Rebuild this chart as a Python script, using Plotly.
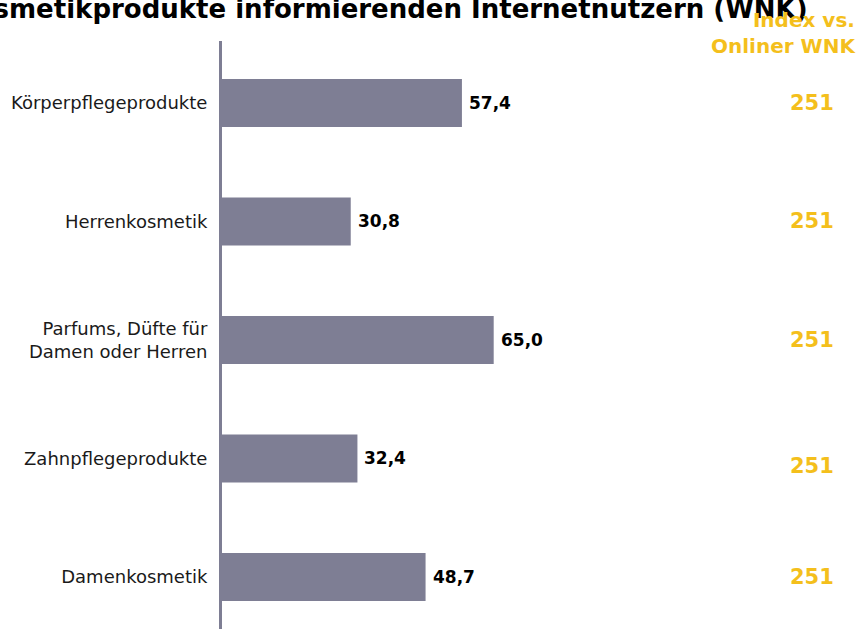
import plotly.graph_objects as go

# Share of internet users informing themselves about each product group (%)
categories = [
    "Körperpflegeprodukte",
    "Herrenkosmetik",
    "Parfums, Düfte für<br>Damen oder Herren",
    "Zahnpflegeprodukte",
    "Damenkosmetik",
]
values = [57.4, 30.8, 65.0, 32.4, 48.7]
index_vs_onliner = [251, 251, 251, 251, 251]

title_text = "Kosmetikprodukte informierenden Internetnutzern (WNK)"
index_header = "Index vs.<br>Onliner WNK"

W, H = 859, 629
M_L, M_R, M_T, M_B = 222, 0, 41, 0
PW, PH = W - M_L - M_R, H - M_T - M_B

BAR_COLOR = "#7e7e94"
GOLD = "#f4bf1c"
FONT = "Verdana, DejaVu Sans, sans-serif"


def px_x(px):
    return (px - M_L) / PW


def px_y(py):
    return (H - M_B - py) / PH


labels = [f"{v:.1f}".replace(".", ",") for v in values]

fig = go.Figure(
    go.Bar(
        x=values,
        y=categories,
        orientation="h",
        width=0.405,
        marker=dict(color=BAR_COLOR, line=dict(width=0)),
        hoverinfo="skip",
    )
)

annotations = [
    dict(
        text=f"<b>{title_text}</b>",
        xref="paper", yref="paper",
        x=px_x(810), y=px_y(9),
        xanchor="right", yanchor="middle",
        showarrow=False,
        font=dict(family=FONT, size=26, color="#000000"),
    ),
    dict(
        text=f"<b>{index_header}</b>",
        xref="paper", yref="paper",
        x=px_x(858), y=px_y(33),
        xanchor="right", yanchor="middle", align="right",
        showarrow=False,
        font=dict(family=FONT, size=20, color=GOLD),
    ),
]

# value labels at the end of each bar
for cat, v, lab in zip(categories, values, labels):
    annotations.append(
        dict(
            text=f"<b>{lab}</b>",
            xref="x", yref="y",
            x=v, y=cat,
            xanchor="left", yanchor="middle",
            xshift=5,
            showarrow=False,
            font=dict(family=FONT, size=17, color="#000000"),
        )
    )

# index column on the right
index_shift = [0, 0, 0, -8, 0]
for i, idx in enumerate(index_vs_onliner):
    annotations.append(
        dict(
            text=f"<b>{idx}</b>",
            xref="paper", yref="y",
            x=px_x(812), y=i,
            yshift=index_shift[i],
            xanchor="center", yanchor="middle",
            showarrow=False,
            font=dict(family=FONT, size=21, color=GOLD),
        )
    )

fig.update_layout(
    width=W, height=H,
    margin=dict(l=M_L, r=M_R, t=M_T, b=M_B),
    paper_bgcolor="white",
    plot_bgcolor="white",
    showlegend=False,
    annotations=annotations,
    xaxis=dict(
        range=[0, PW / 4.18],
        showgrid=False, zeroline=False, showline=False,
        showticklabels=False, ticks="",
        fixedrange=True,
    ),
    yaxis=dict(
        type="category",
        categoryorder="array",
        categoryarray=categories,
        range=[4.439, -0.523],
        showgrid=False, zeroline=False,
        showline=True, linecolor=BAR_COLOR, linewidth=3,
        ticks="outside", ticklen=8, tickcolor="rgba(0,0,0,0)",
        tickfont=dict(family=FONT, size=18, color="#1a1a1a"),
        fixedrange=True,
    ),
)

fig.write_html("out.html")
